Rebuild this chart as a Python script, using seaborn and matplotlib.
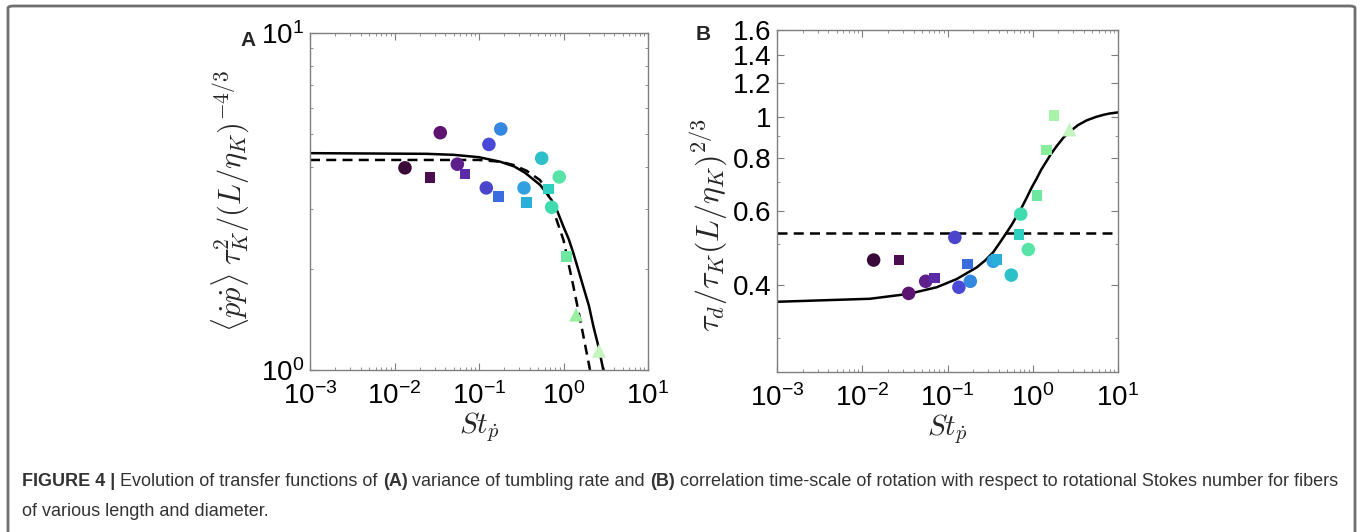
import numpy as np
import pandas as pd
import matplotlib
matplotlib.use("Agg")
import matplotlib.pyplot as plt
import seaborn as sns
from matplotlib.patches import FancyBboxPatch
from matplotlib.ticker import LogLocator, NullFormatter, FixedLocator, FixedFormatter

##### データ
# panel A: <pp> tau_K^2 / (L/eta_K)^(-4/3)
st_a = [0.0133, 0.0263, 0.0348, 0.0554, 0.0683, 0.131, 0.181, 0.122, 0.169,
        0.341, 0.363, 0.552, 0.668, 0.891, 0.725, 1.09, 1.41, 2.63]
var_a = [3.98, 3.72, 5.06, 4.08, 3.82, 4.67, 5.19, 3.47, 3.27,
         3.47, 3.14, 4.25, 3.44, 3.74, 3.04, 2.17, 1.46, 1.14]
mark_a = ["o", "s", "o", "o", "s", "o", "o", "o", "s",
          "o", "s", "o", "s", "o", "o", "s", "^", "^"]
col_a = ["#3a0a38", "#4a0d4f", "#5c1470", "#5e1f8a", "#5b2aa8", "#4a48d6", "#3488e0",
         "#4d44cc", "#3a6ee0", "#30a0e0", "#28b0d8", "#2cc0c8", "#30d0c0", "#58e4a8",
         "#40dcb0", "#6ee8a0", "#98f0a0", "#c4f4c0"]

# panel B: tau_d / tau_K (L/eta_K)^(2/3)
st_b = [0.0136, 0.027, 0.035, 0.0555, 0.070, 0.122, 0.136, 0.172, 0.185, 0.344,
        0.378, 0.560, 0.690, 0.723, 0.887, 1.12, 1.44, 1.77, 2.66]
tau_b = [0.459, 0.459, 0.383, 0.409, 0.416, 0.519, 0.396, 0.449, 0.409, 0.456,
         0.46, 0.423, 0.528, 0.589, 0.486, 0.651, 0.835, 1.005, 0.935]
mark_b = ["o", "s", "o", "o", "s", "o", "o", "s", "o", "o",
          "s", "o", "s", "o", "o", "s", "s", "s", "^"]
col_b = ["#3a0a38", "#4a0d4f", "#5c1470", "#5e1f8a", "#5b2aa8", "#4d44cc", "#4a48d6",
         "#3a6ee0", "#3488e0", "#30a0e0", "#28b0d8", "#2cc0c8", "#30d0c0", "#40dcb0",
         "#58e4a8", "#6ee8a0", "#88ee9a", "#a8f4a8", "#c4f4c0"]

# model curves
fit_a_st = [0.001, 0.024, 0.05, 0.1, 0.178, 0.26, 0.35, 0.53, 0.725, 0.85, 1.0, 1.15,
            1.31, 1.5, 1.71, 2.0, 2.27, 2.6, 2.96]
fit_a_val = [4.40, 4.38, 4.35, 4.28, 4.15, 4.02, 3.85, 3.54, 3.19, 2.95, 2.66, 2.45,
             2.22, 1.98, 1.77, 1.55, 1.34, 1.17, 1.00]
dash_a_st = [0.001, 0.1, 0.178, 0.255, 0.367, 0.527, 0.632, 0.757, 1.0, 1.31, 1.64, 2.06]
dash_a_val = [4.20, 4.20, 4.15, 4.06, 3.90, 3.66, 3.42, 2.98, 2.43, 1.77, 1.34, 1.00]

fit_b_st = [0.001, 0.0123, 0.035, 0.0747, 0.128, 0.22, 0.28, 0.344, 0.41, 0.494, 0.57,
            0.65, 0.75, 0.85, 0.97, 1.11, 1.25, 1.45, 1.65, 1.90, 2.3, 2.74, 3.4, 4.3,
            5.5, 6.8, 8.0, 10.0]
fit_b_val = [0.366, 0.372, 0.382, 0.396, 0.414, 0.441, 0.459, 0.479, 0.504, 0.533, 0.557,
             0.583, 0.613, 0.644, 0.680, 0.714, 0.748, 0.785, 0.818, 0.851, 0.893, 0.923,
             0.955, 0.980, 0.998, 1.010, 1.017, 1.023]
dash_b_st = [0.001, 10.0]
dash_b_val = [0.533, 0.533]

xticks = [1e-3, 1e-2, 1e-1, 1e0, 1e1]
yticks_b = [0.4, 0.6, 0.8, 1, 1.2, 1.4, 1.6]
yticklabels_b = ["0.4", "0.6", "0.8", "1", "1.2", "1.4", "1.6"]

caption = [("FIGURE 4 | ", "bold"), ("Evolution of transfer functions of ", "normal"),
           ("(A)", "bold"), (" variance of tumbling rate and ", "normal"), ("(B)", "bold"),
           (" correlation time-scale of rotation with respect to rotational Stokes number for fibers", "normal")]
caption2 = "of various length and diameter."

##### style
sns.set_style("ticks")
plt.rcParams["font.family"] = ["Liberation Sans", "DejaVu Sans"]
plt.rcParams["mathtext.fontset"] = "cm"
plt.rcParams["axes.unicode_minus"] = False
grey = "#7f7f7f"

W, H = 1360, 532
fig = plt.figure(figsize=(W / 100, H / 100), dpi=100)


def px_axes(l, t, r, b):
    return fig.add_axes([l / W, 1 - b / H, (r - l) / W, (b - t) / H])


def style_axes(ax):
    ax.set_xscale("log")
    ax.set_yscale("log")
    for s in ax.spines.values():
        s.set_color(grey)
        s.set_linewidth(1.0)
    ax.tick_params(which="both", direction="in", top=True, right=True, colors=grey,
                   labelcolor="black", labelsize=20)
    ax.tick_params(which="major", length=5, width=0.8)
    ax.tick_params(which="minor", length=2.5, width=0.6)
    ax.set_xlim(1e-3, 1e1)
    ax.xaxis.set_major_locator(FixedLocator(xticks))
    ax.xaxis.set_minor_locator(LogLocator(base=10, subs=np.arange(2, 10)))
    ax.xaxis.set_minor_formatter(NullFormatter())
    ax.tick_params(axis="x", pad=9)
    ax.set_xlabel(r"$St_{\dot{p}}$", fontsize=21, labelpad=0)


def draw_points(ax, x, y, m, c):
    df = pd.DataFrame({"St": x, "val": y, "mark": m, "id": [str(i) for i in range(len(x))]})
    pal = dict(zip(df["id"], c))
    for mk, size in [("o", 95), ("s", 58), ("^", 100)]:
        sub = df[df["mark"] == mk]
        sns.scatterplot(data=sub, x="St", y="val", hue="id", palette=pal, marker=mk,
                        s=size, linewidth=0, legend=False, ax=ax, zorder=3)


##### (A)
axA = px_axes(310, 33, 648, 370)
style_axes(axA)
sns.lineplot(x=fit_a_st, y=fit_a_val, color="black", lw=1.8, sort=False, estimator=None, ax=axA)
sns.lineplot(x=dash_a_st, y=dash_a_val, color="black", lw=1.8, sort=False, estimator=None,
             ax=axA, linestyle=(0, (4, 2.5)))
draw_points(axA, st_a, var_a, mark_a, col_a)
axA.set_ylim(1, 10)
axA.yaxis.set_minor_locator(LogLocator(base=10, subs=np.arange(2, 10)))
axA.yaxis.set_minor_formatter(NullFormatter())
axA.set_ylabel(r"$\langle\dot{p}\dot{p}\rangle\;\tau_K^2/(L/\eta_K)^{-4/3}$", fontsize=22)
axA.yaxis.set_label_coords(-0.175, 0.5)
axA.tick_params(axis="y", pad=4)
fig.text(248 / W, 1 - 40 / H, "A", fontsize=15, fontweight="bold", ha="center", va="center")

##### (B)
axB = px_axes(777, 30, 1118, 372)
style_axes(axB)
sns.lineplot(x=fit_b_st, y=fit_b_val, color="black", lw=1.8, sort=False, estimator=None, ax=axB)
sns.lineplot(x=dash_b_st, y=dash_b_val, color="black", lw=1.8, sort=False, estimator=None,
             ax=axB, linestyle=(0, (4, 2.5)))
draw_points(axB, st_b, tau_b, mark_b, col_b)
axB.set_ylim(0.25, 1.6)
axB.yaxis.set_major_locator(FixedLocator(yticks_b))
axB.yaxis.set_major_formatter(FixedFormatter(yticklabels_b))
axB.yaxis.set_minor_locator(LogLocator(base=10, subs=np.arange(2, 10), numticks=20))
axB.yaxis.set_minor_formatter(NullFormatter())
axB.set_ylabel(r"$\tau_d/\tau_K(L/\eta_K)^{2/3}$", fontsize=23)
axB.yaxis.set_label_coords(-0.14, 0.43)
axB.tick_params(axis="y", pad=4)
fig.text(703 / W, 1 - 35 / H, "B", fontsize=15, fontweight="bold", ha="center", va="center")

##### caption + frame
fig.canvas.draw()
renderer = fig.canvas.get_renderer()
cap_font = ["Liberation Sans Narrow", "Liberation Sans", "DejaVu Sans"]
x0, x1 = 22, 1346
fs = 12.5
texts = []
x = x0
for s, w in caption:
    t = fig.text(x / W, 1 - 482 / H, s, fontsize=fs, fontweight=w, family=cap_font,
                 color="#333333", va="center", ha="left")
    texts.append(t)
    x += t.get_window_extent(renderer).width
# scale caption so the first line fills the frame width
scale = (x1 - x0) / (x - x0)
x = x0
for t in texts:
    t.set_fontsize(fs * scale)
    t.set_x(x / W)
    x += t.get_window_extent(renderer).width
fig.text(x0 / W, 1 - 512 / H, caption2, fontsize=fs * scale, family=cap_font,
         color="#333333", va="center", ha="left")

frame = FancyBboxPatch((8 / W, -0.05), (1355 - 8) / W, (H - 6) / H + 0.05,
                       boxstyle="round,pad=0,rounding_size=0.004", transform=fig.transFigure,
                       fill=False, edgecolor="#6e6e6e", linewidth=2)
fig.patches.append(frame)

fig.savefig("out.png", dpi=100)
plt.close()
